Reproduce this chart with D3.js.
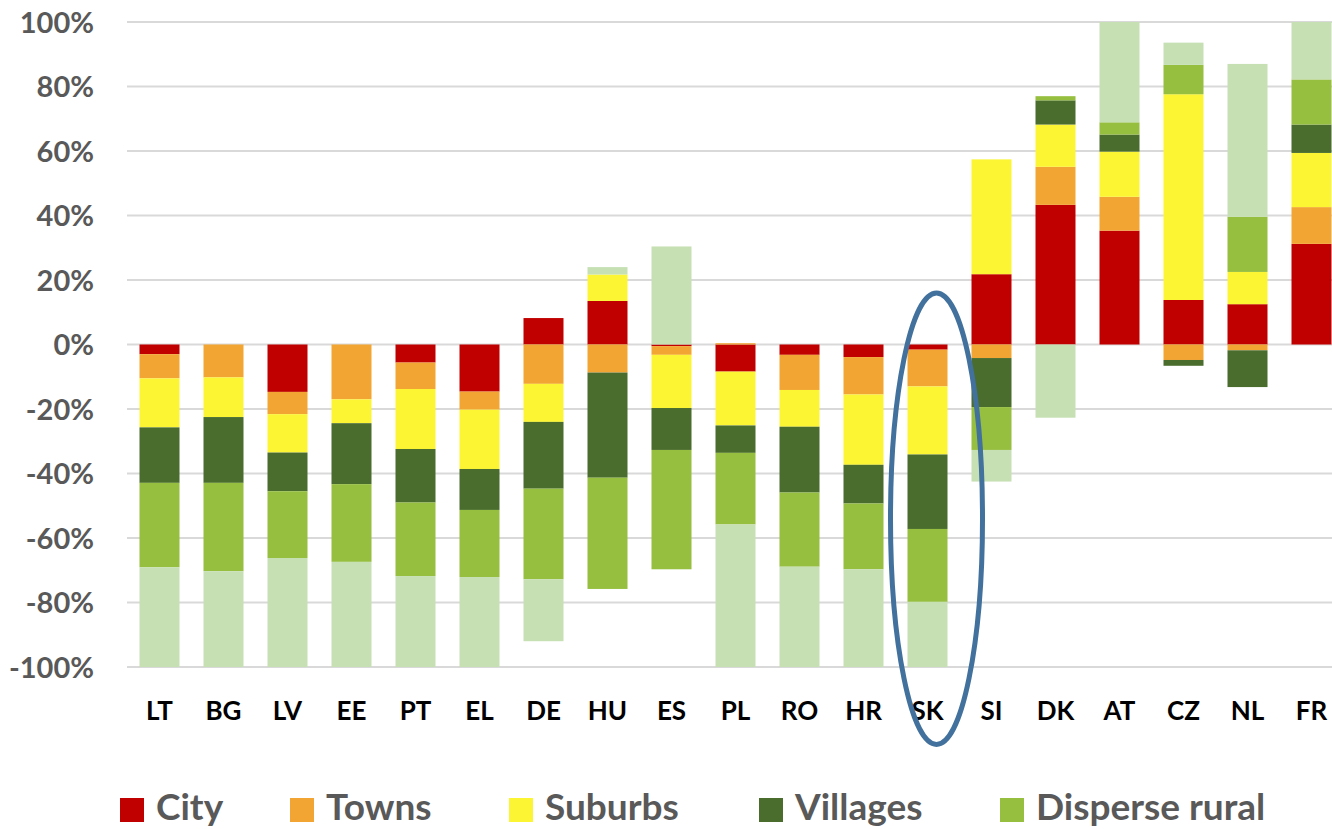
<!DOCTYPE html>
<html>
<head>
<meta charset="utf-8">
<script src="https://cdn.jsdelivr.net/npm/d3@7"></script>
<style>
  html, body { margin: 0; padding: 0; background: #fff; overflow: hidden; }
  svg { display: block; }
  text { font-family: Lato, "Open Sans", "DejaVu Sans", sans-serif; font-weight: 700; }
</style>
</head>
<body>
<svg id="chart" width="1332" height="829"></svg>
<script>
// ---- Data ----
const categories = ["LT","BG","LV","EE","PT","EL","DE","HU","ES","PL","RO","HR","SK","SI","DK","AT","CZ","NL","FR"];
const seriesNames = ["City","Towns","Suburbs","Villages","Disperse rural","Mostly uninhabited"];
const city          = [-3.0,  0.0, -14.7,   0.0, -5.6, -14.6,   8.2,  13.5,  -0.5,  -8.4,  -3.2,  -3.9,  -1.6,  21.8, 43.3, 35.3, 13.8,  12.5, 31.2];
const towns         = [-7.5, -10.2, -6.9, -17.0, -8.2,  -5.6, -12.2,  -8.7,  -2.7,   0.4, -10.9, -11.6, -11.4,  -4.2, 11.8, 10.5, -4.8,  -1.8, 11.4];
const suburbs       = [-15.2,-12.3,-11.9,  -7.4,-18.6, -18.4, -11.8,   8.2, -16.5, -16.7, -11.4, -21.8, -21.1,  35.6, 13.1, 14.0, 63.8,  10.0, 16.8];
const villages      = [-17.2,-20.4,-12.0, -18.9,-16.6, -12.7, -20.7, -32.6, -13.0,  -8.5, -20.4, -12.0, -23.1, -15.2,  7.5,  5.3, -1.8, -11.4,  8.8];
const disperseRural = [-26.2,-27.4,-20.7, -24.1,-22.8, -20.8, -28.1, -34.5, -37.0, -22.2, -23.0, -20.4, -22.6, -13.3,  1.3,  3.8,  9.1,  17.1, 14.0];
const uninhabited   = [-30.9,-29.7,-33.8, -32.6,-28.2, -27.9, -19.2,   2.3,  30.4, -44.2, -31.1, -30.3, -20.2,  -9.8,-22.7, 31.1,  6.9,  47.4, 17.8];
const yTicks = [-100,-80,-60,-40,-20,0,20,40,60,80,100];
const highlighted = "SK";

const seriesValues = [city, towns, suburbs, villages, disperseRural, uninhabited];
const colors = ["#C00000","#F3A533","#FBF534","#4A6D2D","#96BF40","#C6E0B4"];
const legendCount = 5;

// ---- Build table ----
const table = categories.map((c, i) => {
  const row = { cat: c };
  seriesNames.forEach((s, k) => { row[s] = seriesValues[k][i]; });
  return row;
});

const svg = d3.select("#chart");
const W = 1332, H = 829;

const x = d3.scaleBand()
  .domain(categories)
  .range([127.5, 1343.5])
  .paddingInner(0.375)
  .paddingOuter(0.1875);

const y = d3.scaleLinear().domain([-100, 100]).range([667, 22]);

// gridlines
svg.append("g").selectAll("line").data(yTicks).join("line")
  .attr("x1", 127).attr("x2", W + 20)
  .attr("y1", d => y(d)).attr("y2", d => y(d))
  .attr("stroke", "#D9D9D9").attr("stroke-width", 2);

// y axis labels
const yAxis = d3.axisLeft(y).tickValues(yTicks).tickFormat(d => d + "%").tickSize(0).tickPadding(0);
const yg = svg.append("g").attr("transform", "translate(94,0)").call(yAxis);
yg.select(".domain").remove();
yg.selectAll("text")
  .attr("font-size", 29).attr("fill", "#595959")
  .attr("font-family", "Lato, sans-serif").attr("font-weight", 700)
  .attr("dy", "0.36em");

// stacks
const stack = d3.stack().keys(seriesNames).offset(d3.stackOffsetDiverging);
const layers = stack(table);

svg.append("g").selectAll("g").data(layers).join("g")
  .attr("fill", (d, i) => colors[i])
  .selectAll("rect").data(d => d).join("rect")
  .attr("x", d => x(d.data.cat))
  .attr("width", x.bandwidth())
  .attr("y", d => y(Math.max(d[0], d[1])))
  .attr("height", d => Math.abs(y(d[0]) - y(d[1])));

// x axis labels
const xAxis = d3.axisBottom(x).tickSize(0).tickPadding(0);
const xg = svg.append("g").attr("transform", "translate(0,702)").call(xAxis);
xg.select(".domain").remove();
xg.selectAll("text")
  .attr("font-size", 26).attr("fill", "#000")
  .attr("font-family", "Lato, sans-serif").attr("font-weight", 700)
  .attr("dy", "0.71em").attr("y", 0);

// highlight ellipse around SK
const cx = x(highlighted) + x.bandwidth() / 2 + 9;
svg.append("ellipse")
  .attr("cx", cx)
  .attr("cy", y(-54))
  .attr("rx", 46)
  .attr("ry", y(-124) - y(-54))
  .attr("fill", "none")
  .attr("stroke", "#41719C")
  .attr("stroke-width", 5);

// legend (layout positions of the swatches)
const legendX = [120, 290, 509, 759, 1000];
const lg = svg.append("g");
seriesNames.slice(0, legendCount).forEach((name, i) => {
  const it = lg.append("g").attr("transform", `translate(${legendX[i]},0)`);
  it.append("rect").attr("x", 0).attr("y", 798).attr("width", 24).attr("height", 24).attr("fill", colors[i]);
  it.append("text").attr("x", 36).attr("y", 820)
    .attr("font-size", 37).attr("fill", "#595959").text(name);
});
</script>
</body>
</html>
